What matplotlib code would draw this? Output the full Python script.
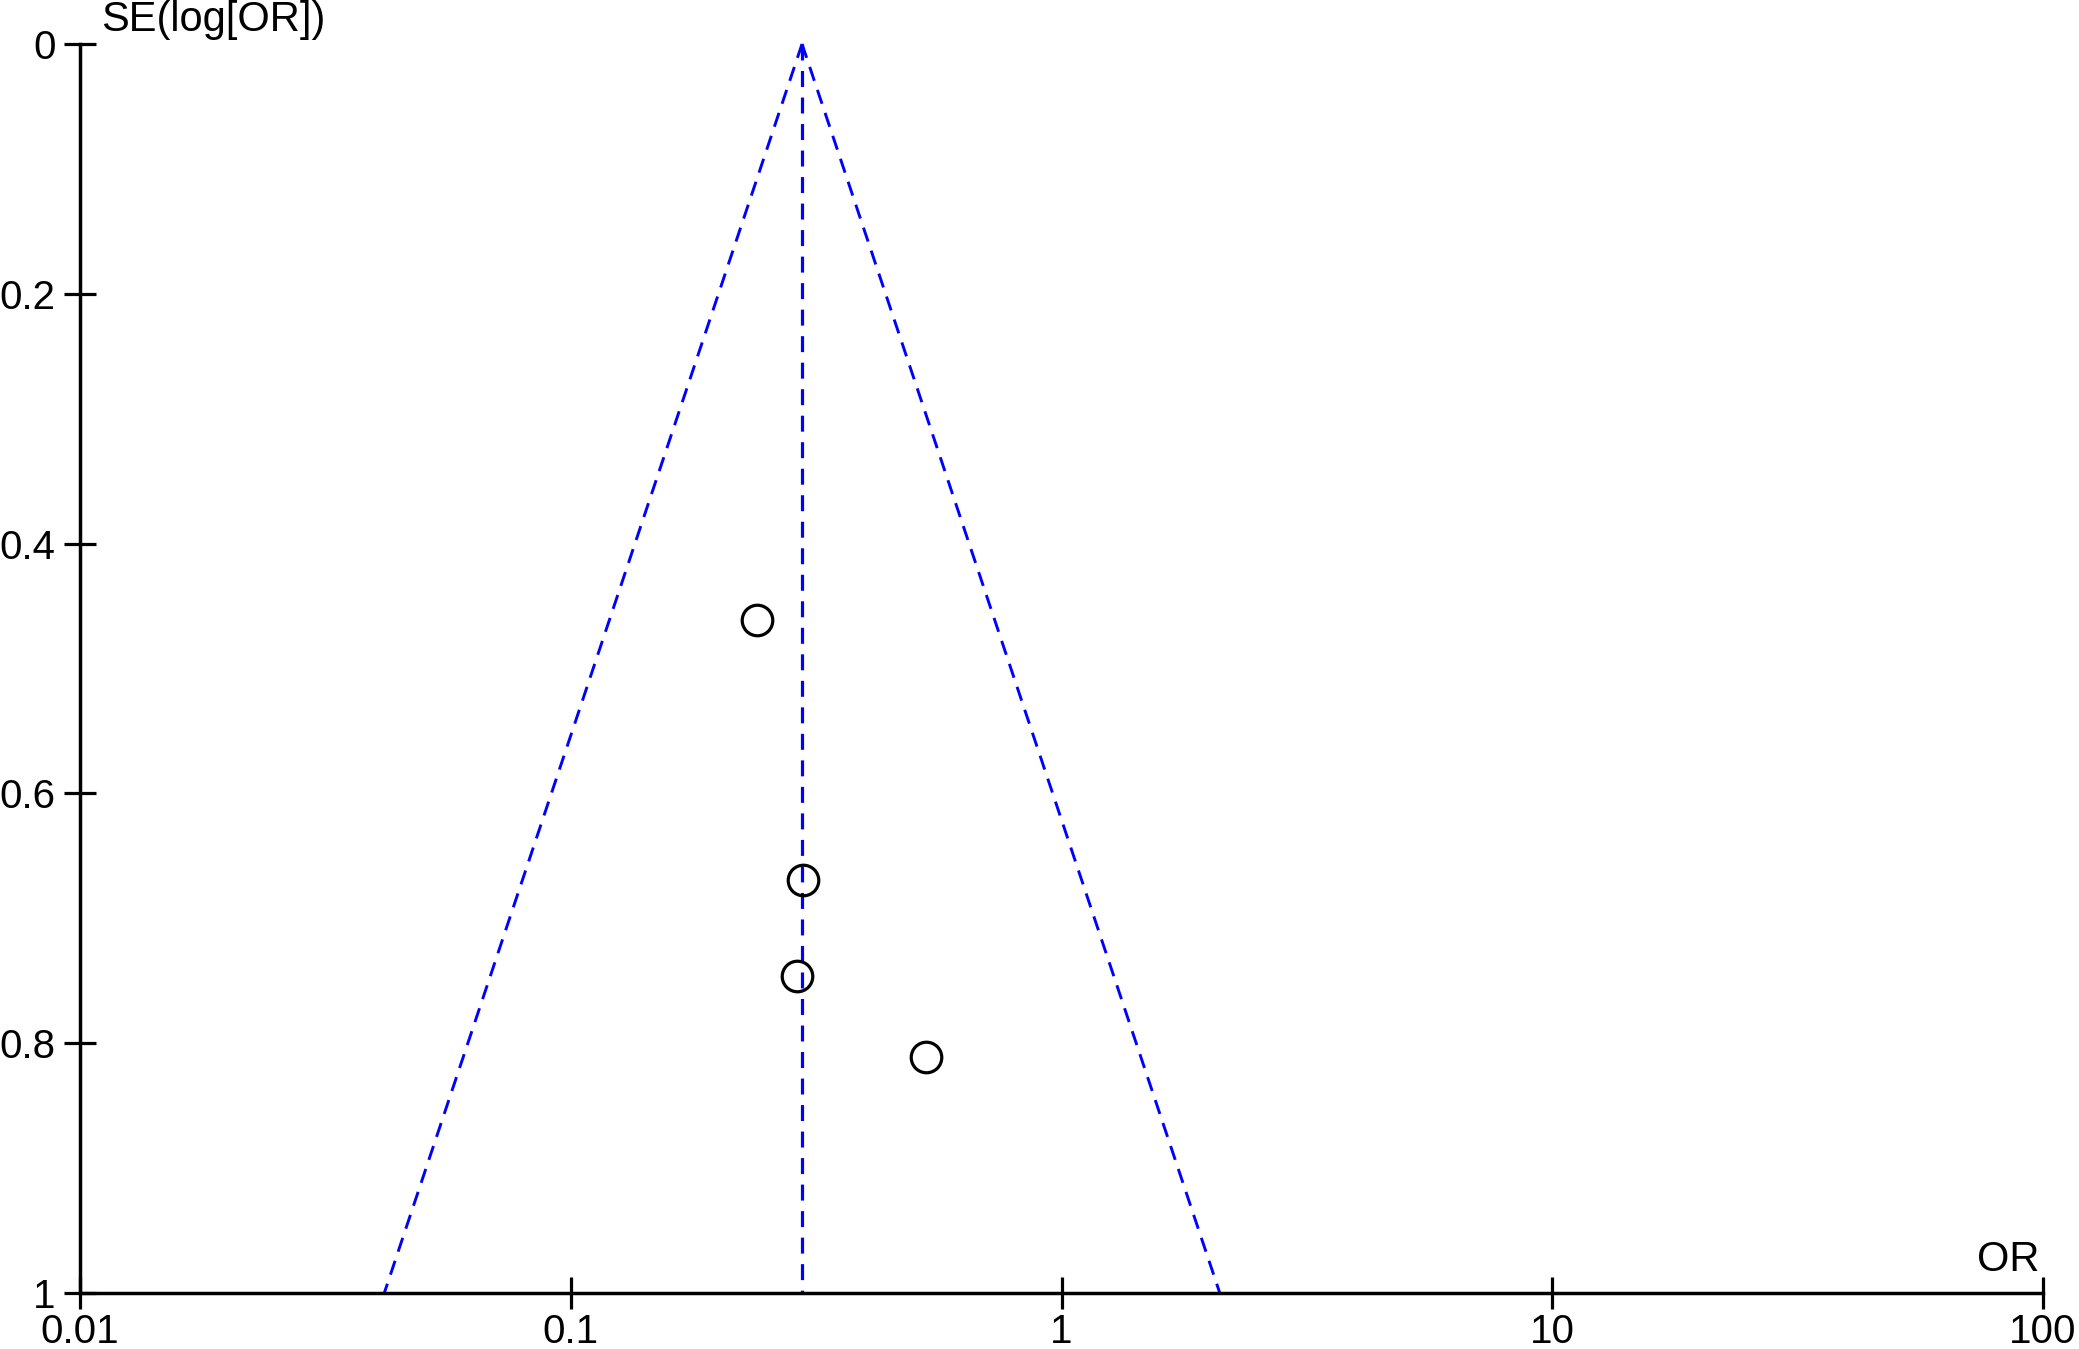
"""
Funnel plot: SE(log[OR]) against OR, with pooled estimate and 95% pseudo-CI limits.
"""

import numpy as np
import matplotlib
matplotlib.use("Agg")
import matplotlib.pyplot as plt

# study estimates
STUDY_OR = [0.240, 0.298, 0.289, 0.529]
STUDY_SE = [0.461, 0.669, 0.746, 0.811]

POOLED_OR = 0.296
SE_MAX = 1.0

X_TICKS = [0.01, 0.1, 1, 10, 100]
X_TICKLABELS = ["0.01", "0.1", "1", "10", "100"]
Y_TICKS = [0, 0.2, 0.4, 0.6, 0.8, 1]
Y_TICKLABELS = ["0", "0.2", "0.4", "0.6", "0.8", "1"]

BLUE = "#0000FF"
FONT = ["Liberation Sans", "DejaVu Sans"]


def plot_funnel():
    fig = plt.figure(figsize=(20.79, 13.49), dpi=100)
    ax = fig.add_axes([80 / 2079, 56 / 1349, (2043 - 80) / 2079, (1293 - 44) / 1349])

    se = np.array([0.0, SE_MAX])
    lo = np.exp(np.log(POOLED_OR) - 1.96 * se)
    hi = np.exp(np.log(POOLED_OR) + 1.96 * se)

    dash = (0, (5, 3.3))
    ax.plot([POOLED_OR, POOLED_OR], se, color=BLUE, lw=2.3, linestyle=dash, clip_on=False)
    ax.plot(lo, se, color=BLUE, lw=2.1, linestyle=dash, clip_on=False)
    ax.plot(hi, se, color=BLUE, lw=2.1, linestyle=dash, clip_on=False)

    ax.plot(STUDY_OR, STUDY_SE, linestyle="none", marker="o", ms=22,
            mfc="none", mec="black", mew=2.3, clip_on=False)

    ax.set_xscale("log")
    ax.set_xlim(0.01, 100)
    ax.set_ylim(1, 0)
    ax.minorticks_off()

    ax.set_xticks(X_TICKS)
    ax.set_xticklabels(X_TICKLABELS, family=FONT, fontsize=29)
    ax.set_yticks(Y_TICKS)
    ax.set_yticklabels(Y_TICKLABELS, family=FONT, fontsize=29)
    ax.tick_params(axis="both", direction="inout", length=23, width=2.3, color="black")
    ax.tick_params(axis="x", pad=3)
    ax.tick_params(axis="y", pad=6)

    for side in ("top", "right"):
        ax.spines[side].set_visible(False)
    for side in ("left", "bottom"):
        ax.spines[side].set_linewidth(2.5)

    ax.text(0.011, 1.003, "SE(log[OR])", transform=ax.transAxes,
            ha="left", va="bottom", family=FONT, fontsize=30)
    ax.text(0.998, 0.0104, "OR", transform=ax.transAxes,
            ha="right", va="bottom", family=FONT, fontsize=30)

    fig.savefig("out.png", dpi=100)
    plt.close(fig)


def main():
    plot_funnel()


if __name__ == "__main__":
    main()
